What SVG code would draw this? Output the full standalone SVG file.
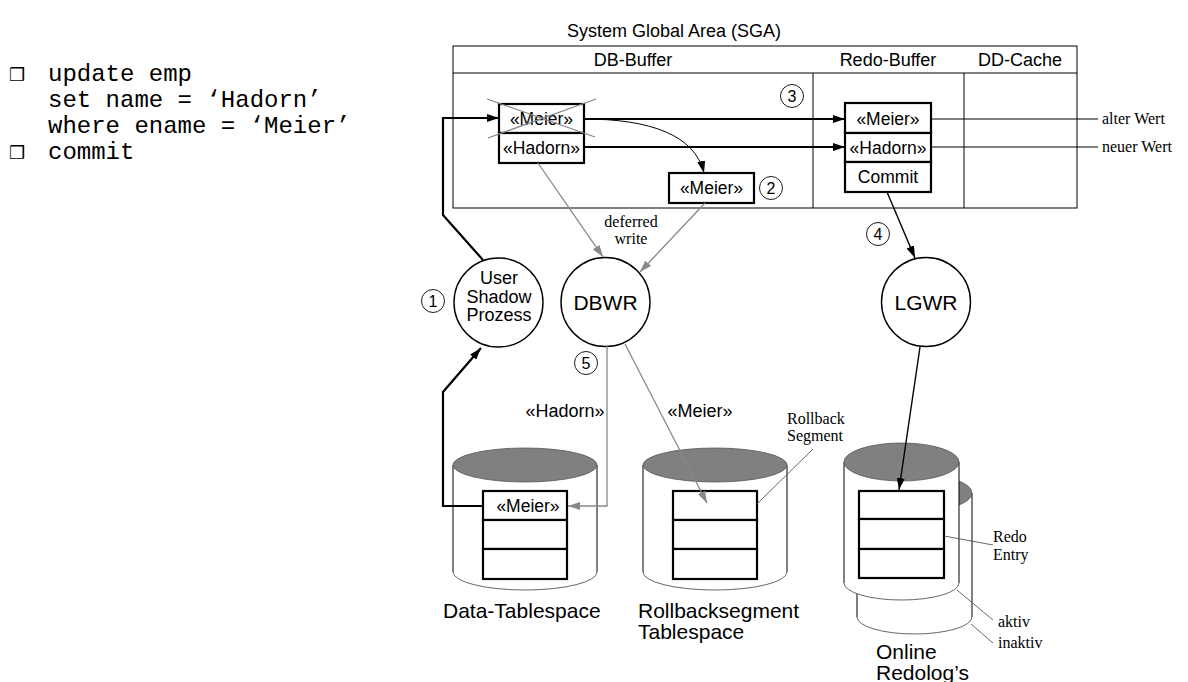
<svg xmlns="http://www.w3.org/2000/svg" width="1188" height="682" viewBox="0 0 1188 682">
<defs>
<style>
.sans{font-family:"Liberation Sans",Arial,sans-serif;fill:#000}
.serif{font-family:"Liberation Serif","Times New Roman",serif;font-size:16px;fill:#000}
.mono{font-family:"Liberation Mono","Courier New",monospace;font-size:24px;fill:#000}
.box{fill:#fff;stroke:#000;stroke-width:2.2}
.thin{fill:none;stroke:#000;stroke-width:1}
.proc{fill:#fff;stroke:#000;stroke-width:1.4}
.num{fill:#fff;stroke:#000;stroke-width:0.9}
.blk{fill:none;stroke:#000;stroke-width:2.2}
.blk1{fill:none;stroke:#000;stroke-width:1.4}
.gry{fill:none;stroke:#888;stroke-width:1.3}
.lead{fill:none;stroke:#555;stroke-width:0.9}
.cylside{fill:#fff;stroke:#000;stroke-width:1}
.cyltop{fill:#808080;stroke:#555;stroke-width:0.8}
.cylbot{fill:none;stroke:#555;stroke-width:0.9}
</style>
<marker id="ab" viewBox="0 0 12 8" refX="12" refY="4" markerWidth="12" markerHeight="8" markerUnits="userSpaceOnUse" orient="auto"><path d="M0,0 L12,4 L0,8 z" fill="#000"/></marker>
<marker id="ag" viewBox="0 0 12 8" refX="12" refY="4" markerWidth="12" markerHeight="8" markerUnits="userSpaceOnUse" orient="auto"><path d="M0,0 L12,4 L0,8 z" fill="#888"/></marker>
</defs>
<rect width="1188" height="682" fill="#fff"/>

<!-- SQL text -->
<g id="sql">
<text x="9" y="81" font-family="DejaVu Sans,sans-serif" font-size="18">❒</text>
<text x="48" y="81" class="mono">update emp</text>
<text x="48" y="107" class="mono">set name = ‘Hadorn’</text>
<text x="48" y="133" class="mono">where ename = ‘Meier’</text>
<text x="9" y="159" font-family="DejaVu Sans,sans-serif" font-size="18">❒</text>
<text x="48" y="159" class="mono">commit</text>
</g>

<!-- SGA -->
<g id="sga">
<text x="674" y="37" class="sans" font-size="18" text-anchor="middle">System Global Area (SGA)</text>
<rect x="453" y="46" width="624" height="162" class="thin"/>
<line x1="453" y1="73" x2="1077" y2="73" class="thin"/>
<line x1="813" y1="73" x2="813" y2="208" class="thin"/>
<line x1="964" y1="73" x2="964" y2="208" class="thin"/>
<text x="633" y="66" class="sans" font-size="18" text-anchor="middle">DB-Buffer</text>
<text x="888" y="66" class="sans" font-size="18" text-anchor="middle">Redo-Buffer</text>
<text x="1020" y="66" class="sans" font-size="18" text-anchor="middle">DD-Cache</text>
</g>

<g id="dbbuf-entry">
<rect x="499" y="104" width="85" height="29" class="box"/>
<rect x="499" y="133" width="85" height="30" class="box"/>
<text x="541.5" y="125" class="sans" font-size="17.5" text-anchor="middle">«Meier»</text>
<text x="541.5" y="154" class="sans" font-size="17.5" text-anchor="middle">«Hadorn»</text>
<line x1="487" y1="99" x2="595" y2="137" class="gry" stroke-width="1"/>
<line x1="488" y1="138" x2="596" y2="99" class="gry" stroke-width="1"/>
</g>

<g id="dbbuf-copy">
<rect x="669" y="173" width="85" height="30" class="box"/>
<text x="711.5" y="194" class="sans" font-size="17.5" text-anchor="middle">«Meier»</text>
</g>

<g id="redo-entry">
<rect x="845" y="103" width="86" height="30" class="box"/>
<rect x="845" y="133" width="86" height="29" class="box"/>
<rect x="845" y="162" width="86" height="30" class="box"/>
<text x="888" y="125" class="sans" font-size="17.5" text-anchor="middle">«Meier»</text>
<text x="888" y="154" class="sans" font-size="17.5" text-anchor="middle">«Hadorn»</text>
<text x="888" y="183" class="sans" font-size="17.5" text-anchor="middle">Commit</text>
</g>

<!-- Processes -->
<g id="user-shadow">
<circle cx="498.5" cy="302.5" r="44.5" class="proc"/>
<text x="499" y="284" class="sans" font-size="18" text-anchor="middle">User</text>
<text x="499" y="303" class="sans" font-size="18" text-anchor="middle">Shadow</text>
<text x="499" y="321" class="sans" font-size="18" text-anchor="middle">Prozess</text>
</g>
<g id="dbwr">
<circle cx="605.5" cy="302" r="44.5" class="proc"/>
<text x="605.5" y="309.5" class="sans" font-size="21" text-anchor="middle">DBWR</text>
</g>
<g id="lgwr">
<circle cx="926" cy="302" r="44.5" class="proc"/>
<text x="926" y="309.5" class="sans" font-size="21" text-anchor="middle">LGWR</text>
</g>

<!-- Data tablespace -->
<g id="data-tablespace">
<path d="M453,465 L453,572 A72,18 0 0 0 597,572 L597,465 Z" fill="#fff" stroke="none"/>
<line x1="453" y1="465" x2="453" y2="572" class="cylside"/>
<line x1="597" y1="465" x2="597" y2="572" class="cylside"/>
<path d="M453,572 A72,18 0 0 0 597,572" class="cylbot"/>
<ellipse cx="525" cy="465" rx="72" ry="17" class="cyltop"/>
<rect x="483" y="491" width="84" height="29" class="box"/>
<rect x="483" y="520" width="84" height="29" class="box"/>
<rect x="483" y="549" width="84" height="30" class="box"/>
<text x="528" y="512" class="sans" font-size="17.5" text-anchor="middle">«Meier»</text>
<text x="443" y="618" class="sans" font-size="21">Data-Tablespace</text>
</g>

<!-- Rollback tablespace -->
<g id="rollback-tablespace">
<path d="M643,465 L643,572 A72,18 0 0 0 787,572 L787,465 Z" fill="#fff" stroke="none"/>
<line x1="643" y1="465" x2="643" y2="572" class="cylside"/>
<line x1="787" y1="465" x2="787" y2="572" class="cylside"/>
<path d="M643,572 A72,18 0 0 0 787,572" class="cylbot"/>
<ellipse cx="715" cy="465" rx="72" ry="17" class="cyltop"/>
<rect x="673" y="491" width="84" height="29" class="box"/>
<rect x="673" y="520" width="84" height="29" class="box"/>
<rect x="673" y="549" width="84" height="30" class="box"/>
<text x="638" y="618" class="sans" font-size="21">Rollbacksegment</text>
<text x="638" y="639" class="sans" font-size="21">Tablespace</text>
<text x="787" y="424" class="serif" font-size="15">Rollback</text>
<text x="787" y="441" class="serif" font-size="15">Segment</text>
<line x1="813" y1="449" x2="757" y2="504" class="lead"/>
</g>

<!-- Online redologs -->
<g id="online-redologs">
<path d="M857,493 L857,617 A57.5,17 0 0 0 972,617 L972,493 Z" fill="#fff" stroke="none"/>
<line x1="857" y1="493" x2="857" y2="617" class="cylside"/>
<line x1="972" y1="493" x2="972" y2="617" class="cylside"/>
<path d="M857,617 A57.5,17 0 0 0 972,617" class="cylbot"/>
<ellipse cx="914.5" cy="493" rx="57.5" ry="19" class="cyltop"/>
<path d="M844,462 L844,583 A57.5,17 0 0 0 959,583 L959,462 Z" fill="#fff" stroke="none"/>
<line x1="844" y1="462" x2="844" y2="583" class="cylside"/>
<line x1="959" y1="462" x2="959" y2="583" class="cylside"/>
<path d="M844,583 A57.5,17 0 0 0 959,583" class="cylbot"/>
<ellipse cx="901.5" cy="462" rx="57.5" ry="19" class="cyltop"/>
<rect x="859" y="491" width="85" height="28" class="box"/>
<rect x="859" y="519" width="85" height="30" class="box"/>
<rect x="859" y="549" width="85" height="29" class="box"/>
<text x="993" y="542" class="serif" font-size="15">Redo</text>
<text x="993" y="560" class="serif" font-size="15">Entry</text>
<line x1="944" y1="536" x2="993" y2="545" class="lead"/>
<text x="998" y="627" class="serif">aktiv</text>
<line x1="957" y1="590" x2="993" y2="620" class="lead"/>
<text x="998" y="648" class="serif">inaktiv</text>
<line x1="971" y1="624" x2="993" y2="643" class="lead"/>
<text x="876" y="659" class="sans" font-size="21">Online</text>
<text x="876" y="680" class="sans" font-size="21">Redolog’s</text>
</g>

<!-- Connectors -->
<g id="connectors">
<polyline points="483,260 443,215 443,118 499,118" class="blk" marker-end="url(#ab)"/>
<line x1="584" y1="119" x2="845" y2="119" class="blk" marker-end="url(#ab)"/>
<line x1="584" y1="147" x2="845" y2="147" class="blk" marker-end="url(#ab)"/>
<path d="M584,119 C650,119 695,135 704,173" fill="none" stroke="#000" stroke-width="1" marker-end="url(#ab)"/>
<line x1="931" y1="119" x2="1098" y2="119" class="thin"/>
<line x1="931" y1="147" x2="1098" y2="147" class="thin"/>
<line x1="538" y1="163" x2="603" y2="257" class="gry" marker-end="url(#ag)"/>
<line x1="705" y1="203" x2="640" y2="272" class="gry" marker-end="url(#ag)"/>
<line x1="887" y1="192" x2="915" y2="258" class="blk1" marker-end="url(#ab)"/>
<line x1="920" y1="347" x2="899" y2="490" class="blk1" marker-end="url(#ab)"/>
<polyline points="483,506 443,506 443,392 481,348" class="blk" marker-end="url(#ab)"/>
<polyline points="606,347 607,347 607,506 568,506" class="gry" marker-end="url(#ag)"/>
<line x1="625" y1="344" x2="707" y2="503" class="gry" marker-end="url(#ag)"/>
<text x="1102" y="124" class="serif">alter Wert</text>
<text x="1102" y="152" class="serif">neuer Wert</text>
<text x="631" y="227" class="serif" font-size="14.5" text-anchor="middle">deferred</text>
<text x="631" y="244" class="serif" font-size="14.5" text-anchor="middle">write</text>
<text x="565" y="417" class="sans" font-size="18" text-anchor="middle">«Hadorn»</text>
<text x="700" y="417" class="sans" font-size="18" text-anchor="middle">«Meier»</text>
</g>

<!-- Step numbers -->
<g id="steps">
<circle cx="433" cy="301" r="11.5" class="num"/><text x="433" y="307" class="sans" font-size="16" text-anchor="middle">1</text>
<circle cx="771" cy="188" r="11.5" class="num"/><text x="771" y="194" class="sans" font-size="16" text-anchor="middle">2</text>
<circle cx="792" cy="96" r="11.5" class="num"/><text x="792" y="102" class="sans" font-size="16" text-anchor="middle">3</text>
<circle cx="878" cy="234" r="11.5" class="num"/><text x="878" y="240" class="sans" font-size="16" text-anchor="middle">4</text>
<circle cx="586" cy="363" r="11.5" class="num"/><text x="586" y="369" class="sans" font-size="16" text-anchor="middle">5</text>
</g>
</svg>
